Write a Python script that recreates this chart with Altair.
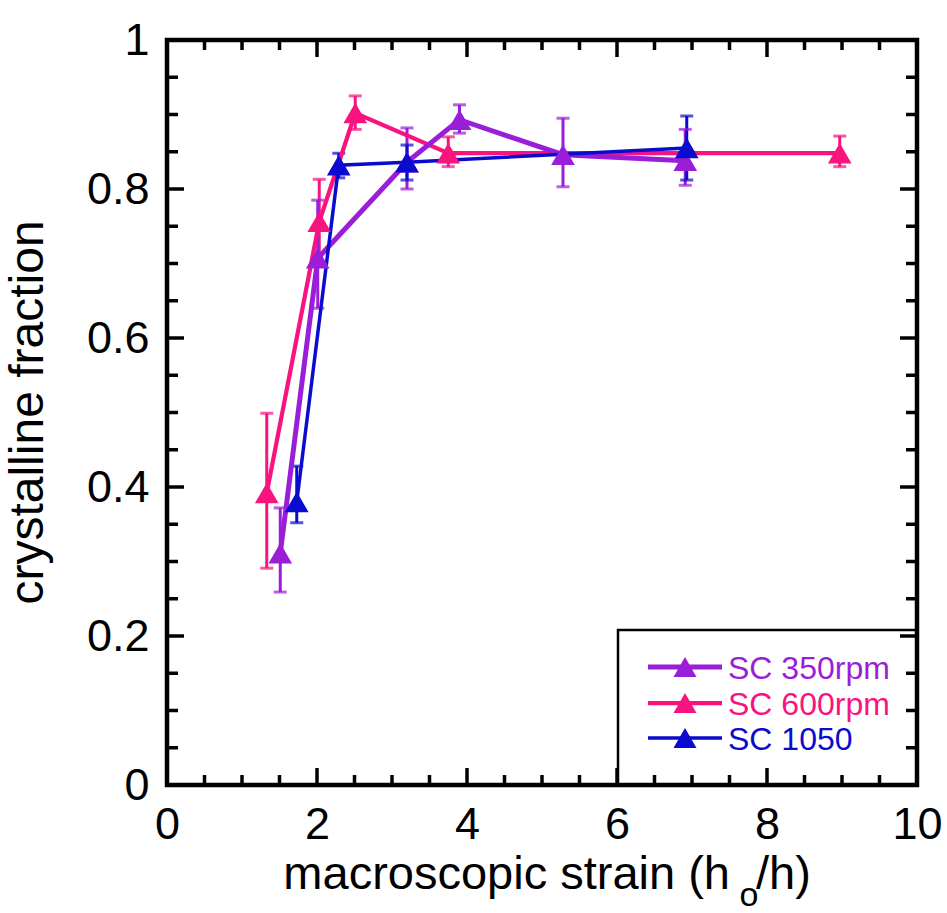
import altair as alt
import pandas as pd

# ---------------- data ----------------
series_names = ["SC 350rpm", "SC 600rpm", "SC 1050"]
series_colors = ["#9a1ed8", "#f8137f", "#0b0bcf"]
series_widths = [5, 3.5, 4]

x_350 = [1.51, 2.01, 3.20, 3.90, 5.28, 6.91]
y_350 = [0.311, 0.707, 0.836, 0.893, 0.846, 0.838]
lo_350 = [0.259, 0.640, 0.800, 0.875, 0.803, 0.805]
hi_350 = [0.372, 0.785, 0.882, 0.913, 0.895, 0.880]

x_600 = [1.33, 2.03, 2.51, 3.75, 8.97]
y_600 = [0.392, 0.756, 0.902, 0.848, 0.848]
lo_600 = [0.291, 0.700, 0.880, 0.830, 0.830]
hi_600 = [0.499, 0.813, 0.925, 0.870, 0.871]

x_1050 = [1.73, 2.29, 3.20, 6.93]
y_1050 = [0.380, 0.832, 0.836, 0.855]
lo_1050 = [0.352, 0.815, 0.812, 0.812]
hi_1050 = [0.428, 0.848, 0.859, 0.898]

x_major = [0, 2, 4, 6, 8, 10]
x_minor = [0.5, 1, 1.5, 2.5, 3, 3.5, 4.5, 5, 5.5, 6.5, 7, 7.5, 8.5, 9, 9.5]
y_major = [0, 0.2, 0.4, 0.6, 0.8, 1.0]
y_minor = [0.05, 0.1, 0.15, 0.25, 0.3, 0.35, 0.45, 0.5, 0.55,
           0.65, 0.7, 0.75, 0.85, 0.9, 0.95]

x_title_main = "macroscopic strain (h"
x_title_sub = "o"
x_title_end = "/h)"
y_title = "crystalline fraction"

FONT = "Liberation Sans"
W, H = 750, 745
LEG_ROWS = [627, 663, 698]

# ---------------- tables ----------------
rows = []
order_draw = [("SC 600rpm", x_600, y_600, lo_600, hi_600),
              ("SC 350rpm", x_350, y_350, lo_350, hi_350),
              ("SC 1050", x_1050, y_1050, lo_1050, hi_1050)]
for name, xs_, ys_, los, his in order_draw:
    for i, (a, b, c, d) in enumerate(zip(xs_, ys_, los, his)):
        rows.append({"series": name, "i": i, "x": a, "y": b, "lo": c, "hi": d})
df = pd.DataFrame(rows)

caps = pd.concat([
    df[["series", "x", "lo"]].rename(columns={"lo": "v"}),
    df[["series", "x", "hi"]].rename(columns={"hi": "v"}),
])

xmaj = pd.DataFrame({"t": x_major})
xmin = pd.DataFrame({"t": x_minor})
ymaj = pd.DataFrame({"t": y_major})
ymin = pd.DataFrame({"t": y_minor})
one = pd.DataFrame({"a": [0]})

xs = alt.Scale(domain=[0, 10], nice=False, zero=False)
ys = alt.Scale(domain=[0, 1], nice=False, zero=False)
col = alt.Color("series:N", scale=alt.Scale(domain=series_names, range=series_colors), legend=None)
sw = alt.StrokeWidth("series:N", scale=alt.Scale(domain=series_names, range=series_widths), legend=None)

# identical axis definitions are used by every layer so that they merge into one
x_axis = alt.Axis(values=x_major, format="d", ticks=False, domain=False, grid=False,
                  labelFontSize=45, labelFont=FONT, labelColor="black", labelPadding=17,
                  labelFlush=False, labelOverlap=False, title=None)
y_axis = alt.Axis(values=y_major, format="~g", ticks=False, domain=False, grid=False,
                  labelFontSize=45, labelFont=FONT, labelColor="black", labelPadding=18,
                  labelFlush=False, labelOverlap=False, title=None)


def X(field):
    return alt.X(field, scale=xs, axis=x_axis)


def Y(field):
    return alt.Y(field, scale=ys, axis=y_axis)


base = alt.Chart(df)

errs = base.mark_rule(strokeWidth=3).encode(
    x=X("x:Q"), y=Y("lo:Q"), y2="hi:Q", color=col,
)
capm = alt.Chart(caps).mark_tick(orient="horizontal", size=13, thickness=3).encode(
    x=X("x:Q"), y=Y("v:Q"), color=col,
)
lines = base.mark_line().encode(
    x=X("x:Q"), y=Y("y:Q"), color=col, strokeWidth=sw, order="i:Q", detail="series:N",
)
pts = base.mark_point(shape="triangle-up", filled=True, size=560, opacity=1).encode(
    x=X("x:Q"), y=Y("y:Q"), color=col,
)

# legend box
box = alt.Chart(one).mark_rect(fill="white", stroke="black", strokeWidth=2.5).encode(
    x=alt.value(451), x2=alt.value(W), y=alt.value(590), y2=alt.value(H)
)

leg_layers = []
for name, yrow in zip(series_names, LEG_ROWS):
    d = pd.DataFrame({"series": [name]})
    leg_layers.append(alt.Chart(d).mark_rule().encode(
        x=alt.value(481), x2=alt.value(555), y=alt.value(yrow), color=col, strokeWidth=sw))
    leg_layers.append(alt.Chart(d).mark_point(shape="triangle-up", filled=True, size=530, opacity=1).encode(
        x=alt.value(518), y=alt.value(yrow), color=col))
    leg_layers.append(alt.Chart(d).mark_text(font=FONT, fontSize=32, align="left", baseline="middle").encode(
        x=alt.value(561), y=alt.value(yrow + 2), color=col, text="series:N"))


def xticks(d, L):
    bot = alt.Chart(d).mark_rule(strokeWidth=3.5, color="black").encode(
        x=X("t:Q"), y=alt.value(H), y2=alt.value(H - L))
    top = alt.Chart(d).mark_rule(strokeWidth=3.5, color="black").encode(
        x=X("t:Q"), y=alt.value(0), y2=alt.value(L))
    return [bot, top]


def yticks(d, L):
    lft = alt.Chart(d).mark_rule(strokeWidth=3.5, color="black").encode(
        y=Y("t:Q"), x=alt.value(0), x2=alt.value(L))
    rgt = alt.Chart(d).mark_rule(strokeWidth=3.5, color="black").encode(
        y=Y("t:Q"), x=alt.value(W - L), x2=alt.value(W))
    return [lft, rgt]


tick_layers = xticks(xmaj, 17) + xticks(xmin, 10) + yticks(ymaj, 17) + yticks(ymin, 11)

frame = alt.Chart(one).mark_rect(fill=None, stroke="black", strokeWidth=4.5).encode(
    x=alt.value(0), x2=alt.value(W), y=alt.value(0), y2=alt.value(H)
)

# titles
t1 = alt.Chart(one).mark_text(text=x_title_main, font=FONT, fontSize=47, align="right",
                              baseline="alphabetic", color="black").encode(
    x=alt.value(563), y=alt.value(849))
t2 = alt.Chart(one).mark_text(text=x_title_sub, font=FONT, fontSize=34, align="center",
                              baseline="alphabetic", color="black").encode(
    x=alt.value(582), y=alt.value(866))
t3 = alt.Chart(one).mark_text(text=x_title_end, font=FONT, fontSize=47, align="left",
                              baseline="alphabetic", color="black").encode(
    x=alt.value(589), y=alt.value(849))
ty = alt.Chart(one).mark_text(text=y_title, font=FONT, fontSize=48, align="center",
                              baseline="alphabetic", angle=270, color="black").encode(
    x=alt.value(-124), y=alt.value(H / 2))

chart = alt.layer(errs, capm, lines, pts, box, *leg_layers, *tick_layers, frame,
                  t1, t2, t3, ty).properties(
    width=W, height=H,
    padding={"left": 167, "top": 40, "right": 30, "bottom": 128},
    autosize=alt.AutoSizeParams(type="none"),
    background="white",
).configure_view(stroke=None)

chart.save("out.html", embed_options={"renderer": "svg", "actions": False})
